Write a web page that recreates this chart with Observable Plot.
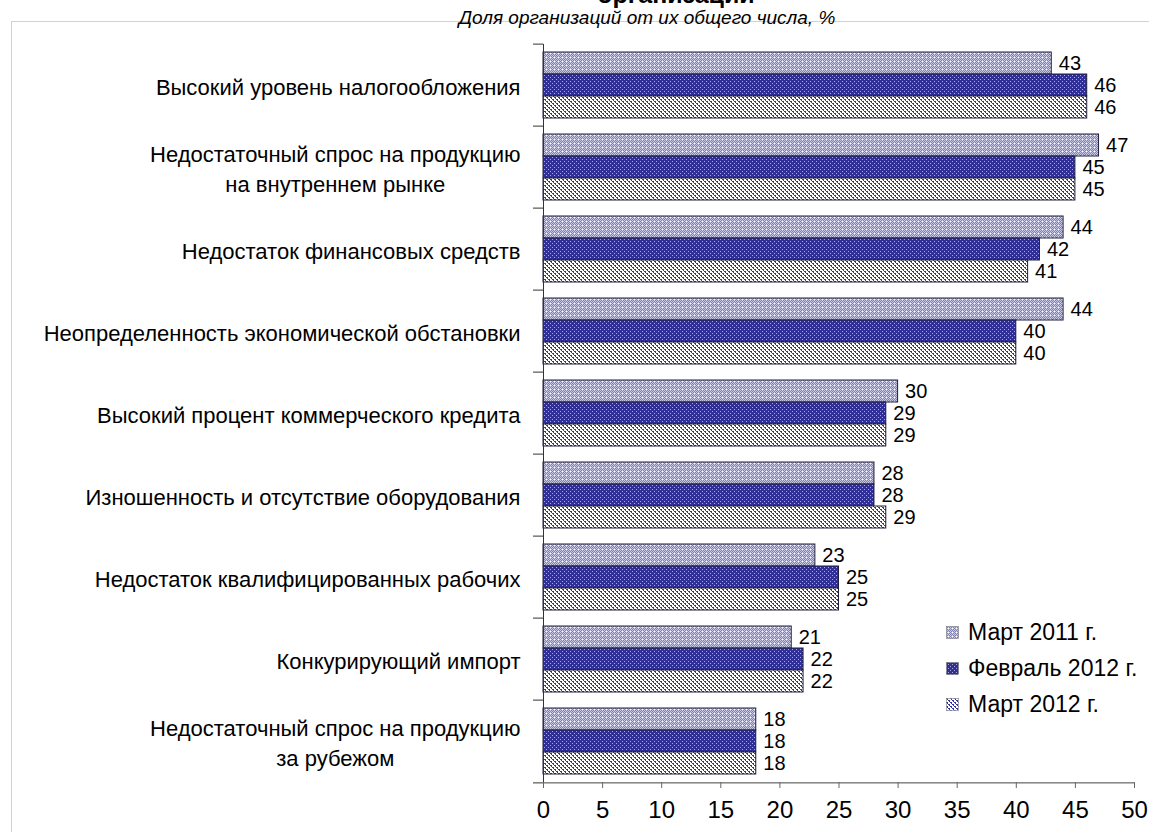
<!DOCTYPE html>
<html><head><meta charset="utf-8">
<script src="https://cdn.jsdelivr.net/npm/d3@7"></script>
<script src="https://cdn.jsdelivr.net/npm/@observablehq/plot@0.6"></script>
<style>
body{margin:0;background:#fff;font-family:"Liberation Sans",Arial,sans-serif;color:#000;}
#wrap{position:relative;width:1149px;height:832px;overflow:hidden;}
#frame{position:absolute;left:11px;top:21px;width:1200px;height:900px;border:1px solid #d2d2d2;}
#title{position:absolute;left:0;top:-20px;width:1352px;text-align:center;font-size:25px;font-weight:bold;line-height:28px;white-space:nowrap;}
#subtitle{position:absolute;left:0;top:7px;width:1294px;text-align:center;font-size:19px;font-style:italic;line-height:22px;white-space:nowrap;}
#chart{position:absolute;left:0;top:28px;}
#legend{position:absolute;left:946px;top:614px;font-size:23px;}
#legend .row{display:flex;align-items:center;height:36px;}
#legend svg{margin-right:9px;}
</style></head>
<body>
<svg width="0" height="0" style="position:absolute">
  <defs>
    <pattern id="p1" width="4" height="4" patternUnits="userSpaceOnUse">
      <rect width="4" height="4" fill="#c8c8e2"/>
      <rect x="0" y="0" width="1" height="1" fill="#8080b4"/><rect x="2" y="0" width="1" height="1" fill="#8080b4"/>
      <rect x="1" y="1" width="1" height="1" fill="#8080b4"/><rect x="3" y="1" width="1" height="1" fill="#8080b4"/>
      <rect x="0" y="2" width="1" height="1" fill="#8080b4"/><rect x="2" y="2" width="1" height="1" fill="#ffffff"/>
      <rect x="1" y="3" width="1" height="1" fill="#8080b4"/><rect x="3" y="3" width="1" height="1" fill="#8080b4"/>
    </pattern>
    <pattern id="p2" width="4" height="4" patternUnits="userSpaceOnUse">
      <rect width="4" height="4" fill="#2f2f96"/>
      <rect x="0" y="0" width="1" height="1" fill="#a8a8dc"/><rect x="2" y="2" width="1" height="1" fill="#a8a8dc"/>
    </pattern>
    <pattern id="p3" width="4" height="4" patternUnits="userSpaceOnUse">
      <rect width="4" height="4" fill="#ffffff"/>
      <rect x="0" y="0" width="2" height="1" fill="#3434a4"/><rect x="1" y="1" width="1" height="1" fill="#3434a4"/>
      <rect x="2" y="2" width="2" height="1" fill="#3434a4"/><rect x="3" y="3" width="1" height="1" fill="#3434a4"/>
    </pattern>
  </defs>
</svg>
<div id="wrap">
  <div id="frame"></div>
  <div id="title">организаций</div>
  <div id="subtitle">Доля организаций от их общего числа, %</div>
  <div id="chart"></div>
  <div id="legend"></div>
</div>
<script>
// ---- data ----
const categories = [
  "Высокий уровень налогообложения",
  "Недостаточный спрос на продукцию\nна внутреннем рынке",
  "Недостаток финансовых средств",
  "Неопределенность экономической обстановки",
  "Высокий процент коммерческого кредита",
  "Изношенность и отсутствие оборудования",
  "Недостаток квалифицированных рабочих",
  "Конкурирующий импорт",
  "Недостаточный спрос на продукцию\nза рубежом"
];
const seriesNames = ["Март 2011 г.", "Февраль 2012 г.", "Март 2012 г."];
const march2011 = [43, 47, 44, 44, 30, 28, 23, 21, 18];
const feb2012   = [46, 45, 42, 40, 29, 28, 25, 22, 18];
const march2012 = [46, 45, 41, 40, 29, 29, 25, 22, 18];
const xTicks = [0, 5, 10, 15, 20, 25, 30, 35, 40, 45, 50];
const seriesFills = ["url(#p1)", "url(#p2)", "url(#p3)"];

const seriesValues = [march2011, feb2012, march2012];
const table = [];
categories.forEach((c, i) => seriesNames.forEach((s, j) => table.push({category: c, series: s, value: seriesValues[j][i]})));

// ---- layout ----
const W = 1149, H = 804, mTop = 13, mBottom = 46, mLeft = 543, mRight = 15;
const padInner = 0.195;
const step = (H - mTop - mBottom) / categories.length;
const gap = step * padInner;

const chart = Plot.plot({
  width: W, height: H,
  marginTop: mTop, marginBottom: mBottom, marginLeft: mLeft, marginRight: mRight,
  style: {fontFamily: "'Liberation Sans', Arial, sans-serif", background: "transparent", overflow: "visible"},
  x: {domain: [0, 50], axis: null},
  y: {domain: seriesNames, padding: 0, axis: null},
  fy: {domain: categories, paddingInner: padInner, paddingOuter: padInner / 2, axis: null, label: null},
  color: {type: "ordinal", domain: seriesNames, range: seriesFills},
  marks: [
    Plot.barX(table, {x: "value", y: "series", fy: "category", fill: "series", stroke: "#1e1e3c", strokeWidth: 1}),
    Plot.text(table, {x: "value", y: "series", fy: "category", text: d => String(d.value), textAnchor: "start", dx: 7, fontSize: 20, fill: "#000"}),
    Plot.ruleX([0], {insetTop: -gap / 2, insetBottom: -gap / 2, stroke: "#333"}),
    Plot.axisFy({anchor: "left", label: null, tickSize: 0, tickPadding: 23, fontSize: 22, lineHeight: 1.36, textAnchor: "end"}),
    Plot.axisFy({anchor: "left", label: null, text: null, tickSize: 10, dy: -step / 2, stroke: "#333"}),
    Plot.axisFy({anchor: "left", label: null, text: null, ticks: [categories[categories.length - 1]], tickSize: 10, dy: step / 2, stroke: "#333"}),
    Plot.gridFy({ticks: [categories[categories.length - 1]], dy: step / 2, stroke: "#444", strokeOpacity: 1}),
    Plot.axisX({anchor: "bottom", ticks: xTicks, tickSize: 6, tickPadding: 12, fontSize: 24, label: null, dy: gap / 2, stroke: "#666"})
  ]
});
document.getElementById("chart").appendChild(chart);

// center second line of two-line category labels under the first line
chart.querySelectorAll("text").forEach(t => {
  const ts = t.querySelectorAll("tspan");
  if (ts.length === 2) {
    const w1 = ts[0].getComputedTextLength(), w2 = ts[1].getComputedTextLength();
    const base = parseFloat(ts[1].getAttribute("x") || "0");
    ts[1].setAttribute("x", base - (w1 - w2) / 2);
  }
});

// legend
const legend = document.getElementById("legend");
seriesNames.forEach((s, j) => {
  const row = document.createElement("div");
  row.className = "row";
  row.innerHTML = `<svg width="13" height="13"><rect x="0.5" y="0.5" width="12" height="12" fill="${seriesFills[j]}" stroke="#666" stroke-width="0.5"/></svg><span>${s}</span>`;
  legend.appendChild(row);
});
</script>
</body></html>
